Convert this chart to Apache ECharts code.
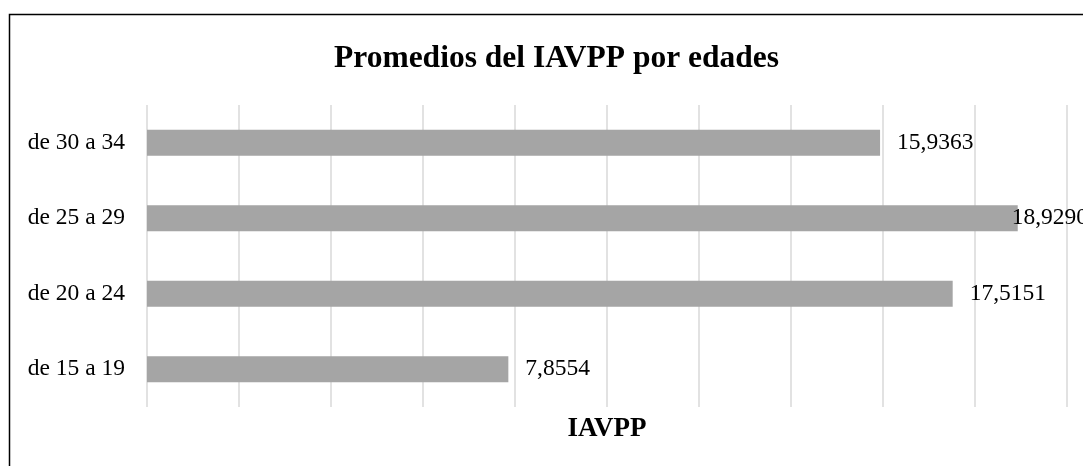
<!DOCTYPE html>
<html><head><meta charset="utf-8">
<script src="https://cdn.jsdelivr.net/npm/echarts@6/dist/echarts.min.js"></script>
<style>html,body{margin:0;padding:0;background:#fff}#c{width:1083px;height:466px}</style>
</head><body><div id="c"></div>
<script>
const titleText = 'Promedios del IAVPP por edades';
const axisName = 'IAVPP';
const categories = ['de 15 a 19', 'de 20 a 24', 'de 25 a 29', 'de 30 a 34'];
const values = [7.8554, 17.5151, 18.9290, 15.9363];

const serif = '"Liberation Serif", "Times New Roman", serif';
const chart = echarts.init(document.getElementById('c'));
const fmt = v => v.toFixed(4).replace('.', ',');
chart.setOption({
  animation: false,
  backgroundColor: '#fff',
  title: {
    text: titleText, left: 329, top: 38,
    textStyle: { fontFamily: serif, fontSize: 31.5, fontWeight: 'bold', color: '#000' }
  },
  graphic: [{
    type: 'rect', shape: { x: 9.5, y: 14.5, width: 1200, height: 600 },
    style: { fill: 'none', stroke: '#000', lineWidth: 1.5 }, silent: true
  }],
  grid: { left: 147, right: 16, top: 105, bottom: 59, containLabel: false },
  xAxis: {
    type: 'value', min: 0, max: 20, interval: 2,
    name: axisName, nameLocation: 'middle', nameGap: 9,
    nameTextStyle: { fontFamily: serif, fontSize: 27, fontWeight: 'bold', color: '#000' },
    axisLabel: { show: false }, axisLine: { show: false }, axisTick: { show: false },
    splitLine: { show: true, lineStyle: { color: '#d9d9d9', width: 1.5 } }
  },
  yAxis: {
    type: 'category', data: categories,
    axisLine: { show: false }, axisTick: { show: false },
    axisLabel: { margin: 22, fontFamily: serif, fontSize: 23.5, color: '#000' }
  },
  series: [{
    type: 'bar', barWidth: 26,
    itemStyle: { color: '#a5a5a5' },
    label: { show: true, position: 'right', distance: 17, formatter: p => fmt(p.value),
      fontFamily: serif, fontSize: 23.5, color: '#000' },
    data: values.map((v, i) => i === 2 ? { value: v, label: { distance: -6 } } : v)
  }]
});
</script></body></html>
